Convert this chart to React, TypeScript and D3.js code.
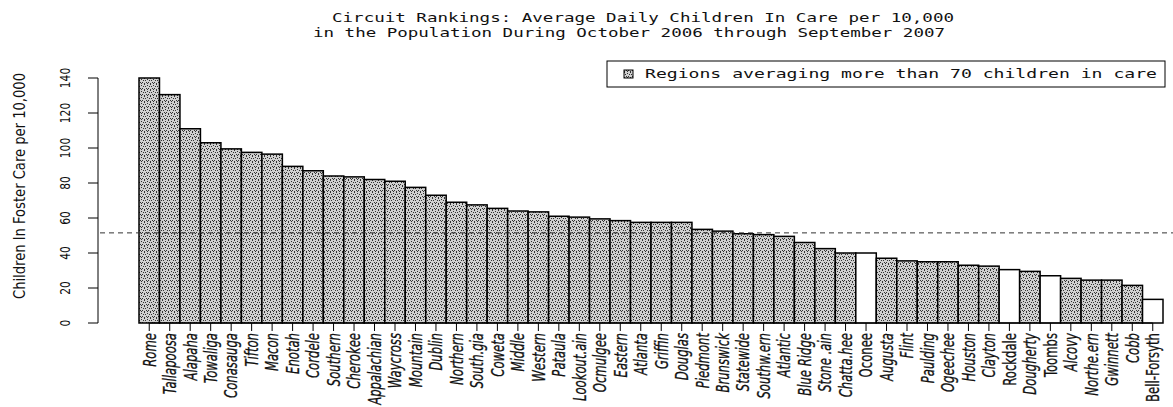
import React, { useRef, useEffect } from 'react';
import * as d3 from 'd3';

// circuits in ranking order
const circuits = [
  'Rome', 'Tallapoosa', 'Alapaha', 'Towaliga', 'Conasauga', 'Tifton', 'Macon', 'Enotah', 'Cordele', 'Southern',
  'Cherokee', 'Appalachian', 'Waycross', 'Mountain', 'Dublin', 'Northern', 'South.gia', 'Coweta', 'Middle', 'Western',
  'Pataula', 'Lookout.ain', 'Ocmulgee', 'Eastern', 'Atlanta', 'Griffin', 'Douglas', 'Piedmont', 'Brunswick', 'Statewide',
  'Southw.ern', 'Atlantic', 'Blue Ridge', 'Stone .ain', 'Chatta.hee', 'Oconee', 'Augusta', 'Flint', 'Paulding', 'Ogeechee',
  'Houston', 'Clayton', 'Rockdale', 'Dougherty', 'Toombs', 'Alcovy', 'Northe.ern', 'Gwinnett', 'Cobb', 'Bell-Forsyth',
];

const childrenPer10k = [
  140, 130.5, 111, 103, 99.5, 97.5, 96.5, 89.5, 87, 84,
  83.5, 82, 81, 77.5, 73, 69, 67.5, 65.5, 64, 63.5,
  61, 60.5, 59.5, 58.5, 57.5, 57.5, 57.5, 53.5, 52.5, 51,
  50.5, 49.5, 46, 42.5, 40, 40, 37, 35.5, 35, 35,
  33, 32.5, 30.5, 29.5, 27, 25.5, 24.5, 24.5, 21.5, 13.5,
];

// bars drawn without the stipple fill
const unshaded = ['Oconee', 'Rockdale', 'Toombs', 'Bell-Forsyth'];

const yTicks = [0, 20, 40, 60, 80, 100, 120, 140];
const statewideLine = 51.5;

const titleLines = [
  'Circuit Rankings: Average Daily Children In Care per 10,000',
  'in the Population During October 2006 through September 2007',
];
const legendLabel = 'Regions averaging more than 70 children in care';
const yTitle = 'Children In Foster Care per 10,000';

const W = 1173;
const H = 407;

const narrow = "'Liberation Sans Narrow', 'DejaVu Sans Condensed', 'DejaVu Sans', sans-serif";
const mono = "'DejaVu Sans Mono', 'Liberation Mono', monospace";

const App: React.FC = () => {
  const svgRef = useRef<SVGSVGElement | null>(null);

  useEffect(() => {
    if (!svgRef.current) return;
    const svg = d3.select(svgRef.current);
    svg.selectAll('*').remove();

    // stipple fill like the printed original
    const defs = svg.append('defs');
    const pat = defs.append('pattern')
      .attr('id', 'stipple')
      .attr('width', 6)
      .attr('height', 6)
      .attr('patternUnits', 'userSpaceOnUse');
    pat.append('rect').attr('width', 6).attr('height', 6).attr('fill', '#d0d0d0');
    const dots: [number, number][] = [[0, 0], [3, 1], [1, 2], [5, 2], [4, 4], [2, 4], [0, 5], [3, 5]];
    pat.selectAll('rect.d')
      .data(dots)
      .enter().append('rect')
      .attr('class', 'd')
      .attr('x', d => d[0]).attr('y', d => d[1])
      .attr('width', 1).attr('height', 1)
      .attr('fill', '#333');

    const x = d3.scaleBand<string>()
      .domain(circuits)
      .range([139, 1163])
      .padding(0);

    const y = d3.scaleLinear()
      .domain([0, 140])
      .range([323, 78]);

    // title
    titleLines.forEach((t, i) => {
      svg.append('text')
        .attr('x', i === 0 ? 332 : 313)
        .attr('y', 22 + i * 15)
        .attr('textLength', i === 0 ? 622 : 632)
        .attr('lengthAdjust', 'spacingAndGlyphs')
        .style('font-family', mono)
        .style('font-size', '12.5px')
        .attr('fill', '#111')
        .text(t);
    });

    // bars
    svg.selectAll('.bar')
      .data(circuits)
      .enter().append('rect')
      .attr('class', 'bar')
      .attr('x', d => x(d)!)
      .attr('y', (d, i) => y(childrenPer10k[i]))
      .attr('width', x.bandwidth())
      .attr('height', (d, i) => y(0) - y(childrenPer10k[i]))
      .attr('fill', d => (unshaded.includes(d) ? '#fff' : 'url(#stipple)'))
      .attr('stroke', '#000')
      .attr('stroke-width', 1.5);

    // statewide reference line
    svg.append('line')
      .attr('x1', 100).attr('x2', W)
      .attr('y1', y(statewideLine)).attr('y2', y(statewideLine))
      .attr('stroke', '#333')
      .attr('stroke-width', 1)
      .attr('stroke-dasharray', '5,4');

    // y axis
    const yAxis = svg.append('g').attr('transform', 'translate(98,0)');
    yAxis.append('line')
      .attr('x1', 0).attr('x2', 0)
      .attr('y1', y(0)).attr('y2', y(140))
      .attr('stroke', '#000');
    yAxis.selectAll('.ytick')
      .data(yTicks)
      .enter().append('line')
      .attr('x1', -10).attr('x2', 0)
      .attr('y1', d => y(d)).attr('y2', d => y(d))
      .attr('stroke', '#000');
    yAxis.selectAll('.ylab')
      .data(yTicks)
      .enter().append('text')
      .attr('transform', d => `translate(-33,${y(d)}) rotate(-90) scale(0.85,1)`)
      .attr('text-anchor', 'middle')
      .attr('dy', '0.35em')
      .style('font-family', narrow)
      .style('font-size', '14px')
      .attr('fill', '#111')
      .text(d => d);

    svg.append('text')
      .attr('transform', 'translate(20,186) rotate(-90)')
      .attr('text-anchor', 'middle')
      .attr('dy', '0.35em')
      .attr('textLength', 226)
      .attr('lengthAdjust', 'spacingAndGlyphs')
      .style('font-family', narrow)
      .style('font-size', '15px')
      .attr('fill', '#111')
      .text(yTitle);

    // x ticks and labels
    const cx = (d: string) => x(d)! + x.bandwidth() / 2;
    svg.append('line')
      .attr('x1', cx(circuits[0])).attr('x2', cx(circuits[circuits.length - 1]))
      .attr('y1', y(0)).attr('y2', y(0))
      .attr('stroke', '#000');
    svg.selectAll('.xtick')
      .data(circuits)
      .enter().append('line')
      .attr('x1', d => cx(d)).attr('x2', d => cx(d))
      .attr('y1', y(0)).attr('y2', y(0) + 8)
      .attr('stroke', '#000');
    svg.selectAll('.xlab')
      .data(circuits)
      .enter().append('text')
      .attr('transform', d => `translate(${cx(d)},${y(0) + 10}) rotate(-90) scale(0.72,1)`)
      .attr('text-anchor', 'end')
      .attr('dy', '0.35em')
      .style('font-family', narrow)
      .style('font-size', '18px')
      .style('font-style', d => (unshaded.includes(d) ? 'normal' : 'italic'))
      .attr('fill', '#111')
      .attr('stroke', '#111')
      .attr('stroke-width', 0.3)
      .text(d => d);

    // legend
    const lg = svg.append('g');
    lg.append('rect')
      .attr('x', 607).attr('y', 61)
      .attr('width', 558).attr('height', 26)
      .attr('fill', '#fff')
      .attr('stroke', '#000');
    lg.append('rect')
      .attr('x', 624).attr('y', 70)
      .attr('width', 9).attr('height', 8)
      .attr('fill', 'url(#stipple)')
      .attr('stroke', '#000');
    lg.append('text')
      .attr('x', 645).attr('y', 78)
      .attr('textLength', 512)
      .attr('lengthAdjust', 'spacingAndGlyphs')
      .style('font-family', mono)
      .style('font-size', '12.5px')
      .attr('fill', '#111')
      .text(legendLabel);
  }, []);

  return (
    <div style={{ position: 'absolute', left: 0, top: 0, background: '#fff' }}>
      <svg ref={svgRef} width={W} height={H} style={{ display: 'block', background: '#fff' }}></svg>
    </div>
  );
};

export default App;
